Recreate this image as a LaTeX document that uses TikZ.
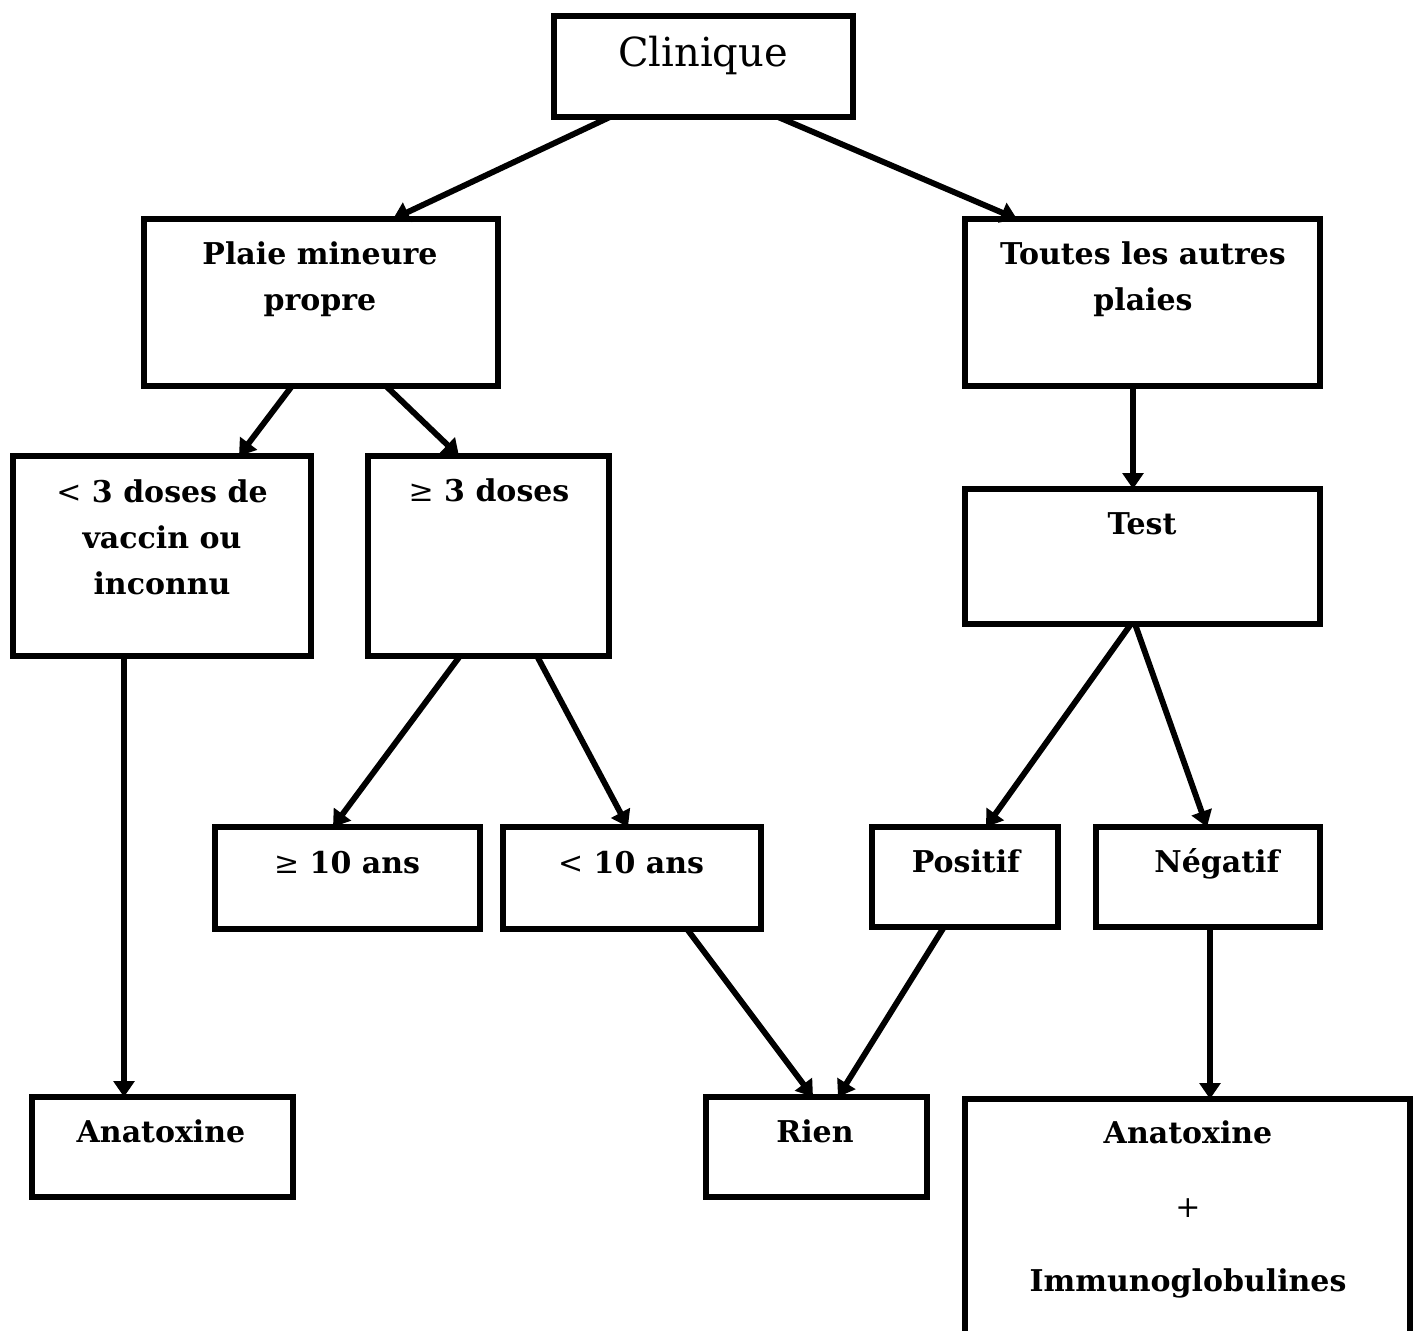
\documentclass[tikz,border=0pt]{standalone}
\usepackage{fontspec}
\setmainfont{DejaVu Serif}
\usetikzlibrary{arrows.meta,calc,fit}
\begin{document}
\begin{tikzpicture}[x=0.75pt,y=-0.75pt,
  box/.style={draw,line width=4.4pt,inner sep=0pt,outer sep=0pt,rectangle},
  lbl/.style={anchor=base,inner sep=0pt,font=\bfseries\fontsize{22.5}{26}\selectfont},
  big/.style={anchor=base,inner sep=0pt,font=\fontsize{30}{36}\selectfont},
  arr/.style={line width=4.4pt,-{Triangle[length=12pt,width=15.5pt]}}]
\useasboundingbox (0,0) rectangle (1418,1331);
\clip (0,0) rectangle (1418,1331);

% boxes
\node[box,fit={(554,16) (853,117)}] (clin) {};
\node[box,fit={(144,219) (498,386)}] (plaie) {};
\node[box,fit={(965,219) (1320,386)}] (autres) {};
\node[box,fit={(13,456) (311,656)}] (moins3) {};
\node[box,fit={(368,456) (609,656)}] (plus3) {};
\node[box,fit={(965,489) (1320,624)}] (test) {};
\node[box,fit={(215,827) (480,929)}] (plus10) {};
\node[box,fit={(503,827) (761,929)}] (moins10) {};
\node[box,fit={(872,827) (1058,927)}] (positif) {};
\node[box,fit={(1096,827) (1320,927)}] (negatif) {};
\node[box,fit={(32,1097) (293,1197)}] (anaL) {};
\node[box,fit={(706,1097) (927,1197)}] (rien) {};
\node[box,fit={(965,1099) (1410,1345)}] (anaR) {};

% texts
\node[big] (t-clin) at (703,67) {Clinique};
\node[lbl] (t-plaie1) at (320,264) {Plaie mineure};
\node[lbl] (t-plaie2) at (320,310) {propre};
\node[lbl] (t-autres1) at (1143,264) {Toutes les autres};
\node[lbl] (t-autres2) at (1143,310) {plaies};
\node[lbl] (t-moins3a) at (162,502) {{\mdseries <} 3 doses de};
\node[lbl] (t-moins3b) at (162,548) {vaccin ou};
\node[lbl] (t-moins3c) at (162,594) {inconnu};
\node[lbl] (t-plus3) at (489,501) {{\mdseries ≥} 3 doses};
\node[lbl] (t-test) at (1142,534) {Test};
\node[lbl] (t-plus10) at (347,873) {{\mdseries ≥} 10 ans};
\node[lbl] (t-moins10) at (631,873) {{\mdseries <} 10 ans};
\node[lbl] (t-positif) at (966,872) {Positif};
\node[lbl] (t-negatif) at (1217,872) {Négatif};
\node[lbl] (t-anaL) at (161,1142) {Anatoxine};
\node[lbl] (t-rien) at (815,1142) {Rien};
\node[lbl] (t-anaR1) at (1188,1143) {Anatoxine};
\node[lbl] (t-plus) at (1188,1217) {{\mdseries +}};
\node[lbl] (t-anaR2) at (1188,1291) {Immunoglobulines};

% connectors
\draw[arr] ($(clin.south west)+(56,0)$) -- ($(plaie.north west)+(249,0)$);
\draw[arr] ($(clin.south west)+(224,0)$) -- ($(autres.north west)+(52,0)$);
\draw[arr] ($(plaie.south west)+(148,0)$) -- ($(moins3.north west)+(226,0)$);
\draw[arr] ($(plaie.south west)+(242,0)$) -- ($(plus3.north west)+(91,0)$);
\draw[arr] ($(autres.south west)+(168,0)$) -- ($(test.north west)+(168,0)$);
\draw[arr] ($(moins3.south west)+(111,0)$) -- ($(anaL.north west)+(92,0)$);
\draw[arr] ($(plus3.south west)+(92,0)$) -- ($(plus10.north west)+(118,0)$);
\draw[arr] ($(plus3.south west)+(169,0)$) -- ($(moins10.north west)+(125,0)$);
\draw[arr] ($(test.south west)+(166,0)$) -- ($(positif.north west)+(114,0)$);
\draw[arr] ($(test.south west)+(170,0)$) -- ($(negatif.north west)+(111,0)$);
\draw[arr] ($(moins10.south west)+(184,0)$) -- ($(rien.north west)+(107,0)$);
\draw[arr] ($(positif.south west)+(72,0)$) -- ($(rien.north west)+(132,0)$);
\draw[arr] ($(negatif.south west)+(114,0)$) -- ($(anaR.north west)+(245,0)$);
\end{tikzpicture}
\end{document}
